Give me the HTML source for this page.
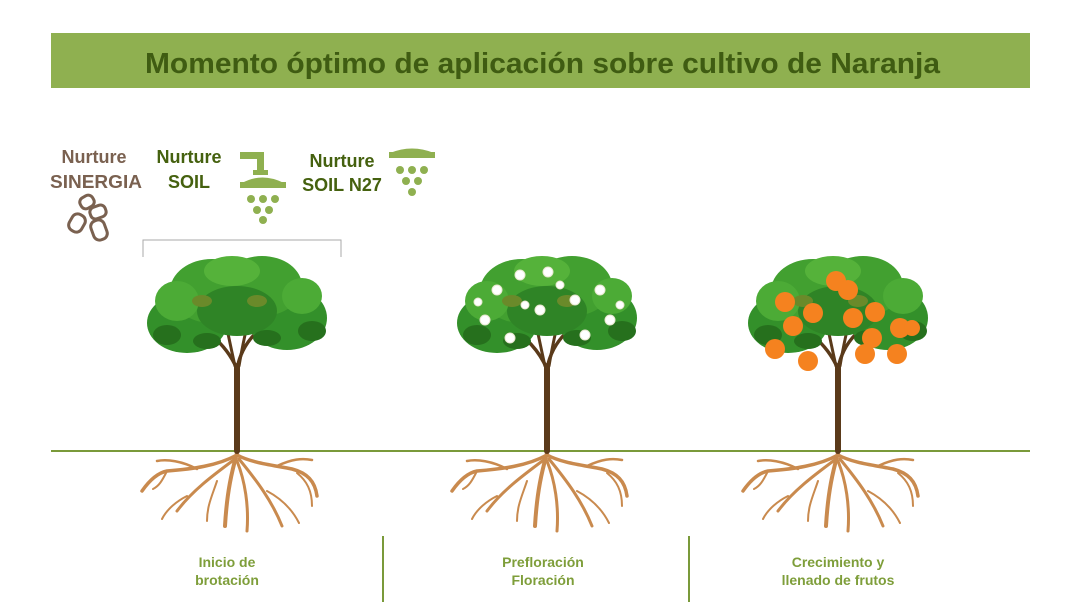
<!DOCTYPE html>
<html><head><meta charset="utf-8"><style>
html,body{margin:0;padding:0;background:#fff;}
body{width:1080px;height:616px;overflow:hidden;position:relative;font-family:"Liberation Sans",sans-serif;}
</style></head><body>
<svg width="1080" height="616" viewBox="0 0 1080 616" xmlns="http://www.w3.org/2000/svg" style="position:absolute;left:0;top:0">
<defs>
<g id="tree">
  <g stroke="#c98a4e" fill="none" stroke-linecap="round">
    <path d="M0 2 C-5 20 -10 40 -12 75" stroke-width="4"/>
    <path d="M0 4 C-20 15 -45 18 -70 20 C-80 22 -88 30 -95 40" stroke-width="3.5"/>
    <path d="M0 4 C15 12 35 14 55 18 C70 22 78 30 80 45" stroke-width="3.5"/>
    <path d="M-2 8 C-25 25 -45 40 -60 60" stroke-width="3"/>
    <path d="M2 8 C20 30 35 50 45 75" stroke-width="3"/>
    <path d="M0 10 C8 30 12 55 10 80" stroke-width="3"/>
    <path d="M-40 18 C-55 10 -70 8 -80 10" stroke-width="2.5"/>
    <path d="M40 15 C55 8 65 7 75 9" stroke-width="2.5"/>
    <path d="M-50 45 C-60 50 -70 58 -75 68" stroke-width="2"/>
    <path d="M30 40 C45 48 55 58 62 72" stroke-width="2"/>
    <path d="M-70 20 C-75 30 -78 35 -84 38" stroke-width="2"/>
    <path d="M-20 30 C-25 45 -30 55 -30 70" stroke-width="2"/>
    <path d="M60 22 C70 30 75 40 75 55" stroke-width="2"/>
  </g>
  <g stroke="#5a3a1a" fill="none" stroke-linecap="round">
    <path d="M0 0 L0 -85" stroke-width="6"/>
    <path d="M0 -82 C-10 -105 -30 -125 -65 -135" stroke-width="3.5"/>
    <path d="M0 -82 C5 -110 25 -130 60 -140" stroke-width="3.5"/>
    <path d="M-2 -85 C-10 -120 -15 -150 -20 -165" stroke-width="3"/>
    <path d="M2 -85 C8 -120 15 -150 25 -170" stroke-width="3"/>
  </g>
  <g>
    <ellipse cx="-50" cy="-128" rx="40" ry="30" fill="#33902a"/>
    <ellipse cx="50" cy="-133" rx="40" ry="32" fill="#33902a"/>
    <ellipse cx="-25" cy="-160" rx="42" ry="32" fill="#42a030"/>
    <ellipse cx="25" cy="-165" rx="40" ry="30" fill="#42a030"/>
    <ellipse cx="0" cy="-140" rx="40" ry="25" fill="#2f8426"/>
    <ellipse cx="-60" cy="-150" rx="22" ry="20" fill="#4cab36"/>
    <ellipse cx="65" cy="-155" rx="20" ry="18" fill="#4cab36"/>
    <ellipse cx="-5" cy="-180" rx="28" ry="15" fill="#55b23a"/>
    <ellipse cx="-70" cy="-116" rx="14" ry="10" fill="#26701d"/>
    <ellipse cx="75" cy="-120" rx="14" ry="10" fill="#26701d"/>
    <ellipse cx="-30" cy="-110" rx="14" ry="8" fill="#26701d"/>
    <ellipse cx="30" cy="-113" rx="14" ry="8" fill="#26701d"/>
    <ellipse cx="-35" cy="-150" rx="10" ry="6" fill="#6a8a2a"/>
    <ellipse cx="20" cy="-150" rx="10" ry="6" fill="#6a8a2a"/>
  </g>
</g>
</defs>

<rect x="51" y="33" width="979" height="55" fill="#8fb050"/>
<text x="145" y="73" textLength="795" lengthAdjust="spacingAndGlyphs" font-family="Liberation Sans, sans-serif" font-weight="bold" font-size="29" fill="#3f5c12">Momento óptimo de aplicación sobre cultivo de Naranja</text>

<g font-family="Liberation Sans, sans-serif" font-weight="bold" font-size="18" text-anchor="middle">
  <text x="94" y="163" fill="#7a6150">Nurture</text>
  <text x="96" y="188" fill="#7a6150" textLength="92" lengthAdjust="spacingAndGlyphs">SINERGIA</text>
  <text x="189" y="163" fill="#45610f">Nurture</text>
  <text x="189" y="188" fill="#45610f">SOIL</text>
  <text x="342" y="167" fill="#45610f">Nurture</text>
  <text x="342" y="191" fill="#45610f">SOIL N27</text>
</g>
<g fill="#fff" stroke="#7a6150" stroke-width="3">
  <rect x="80" y="196" width="14" height="12" rx="5" transform="rotate(-30 87 202)"/>
  <rect x="90" y="206" width="16" height="12" rx="5" transform="rotate(-20 98 212)"/>
  <rect x="70" y="214" width="14" height="18" rx="6" transform="rotate(30 77 223)"/>
  <rect x="92" y="220" width="14" height="20" rx="6" transform="rotate(-20 99 230)"/>
</g>
<g fill="#8fb050">
  <rect x="240" y="152" width="24" height="7"/>
  <rect x="257" y="152" width="7" height="20"/>
  <rect x="253" y="170" width="15" height="5"/>
  <path d="M242 183 Q262 172 284 183 Z"/>
  <rect x="240" y="182" width="46" height="6"/>
  <circle cx="251" cy="199" r="4"/><circle cx="263" cy="199" r="4"/><circle cx="275" cy="199" r="4"/>
  <circle cx="257" cy="210" r="4"/><circle cx="269" cy="210" r="4"/>
  <circle cx="263" cy="220" r="4"/>
  <path d="M390 153 Q412 144 434 153 Z"/>
  <rect x="389" y="152" width="46" height="6"/>
  <circle cx="400" cy="170" r="4"/><circle cx="412" cy="170" r="4"/><circle cx="424" cy="170" r="4"/>
  <circle cx="406" cy="181" r="4"/><circle cx="418" cy="181" r="4"/>
  <circle cx="412" cy="192" r="4"/>
</g>
<path d="M143 257 V240 H341 V257" fill="none" stroke="#aaa" stroke-width="1"/>

<line x1="51" y1="451" x2="1030" y2="451" stroke="#7a9a3a" stroke-width="2"/>

<use href="#tree" transform="translate(237,451)"/>
<use href="#tree" transform="translate(547,451)"/>
<use href="#tree" transform="translate(838,451)"/>

<g fill="#fff" stroke="#e8e8d0" stroke-width="1">
  <circle cx="497" cy="290" r="5"/><circle cx="520" cy="275" r="5"/><circle cx="548" cy="272" r="5"/>
  <circle cx="575" cy="300" r="5"/><circle cx="600" cy="290" r="5"/><circle cx="610" cy="320" r="5"/>
  <circle cx="485" cy="320" r="5"/><circle cx="510" cy="338" r="5"/><circle cx="540" cy="310" r="5"/>
  <circle cx="585" cy="335" r="5"/><circle cx="560" cy="285" r="4"/><circle cx="525" cy="305" r="4"/>
  <circle cx="620" cy="305" r="4"/><circle cx="478" cy="302" r="4"/>
</g>
<g fill="#f5821f">
  <circle cx="785" cy="302" r="10"/><circle cx="813" cy="313" r="10"/><circle cx="793" cy="326" r="10"/>
  <circle cx="836" cy="281" r="10"/><circle cx="848" cy="290" r="10"/><circle cx="853" cy="318" r="10"/>
  <circle cx="875" cy="312" r="10"/><circle cx="872" cy="338" r="10"/><circle cx="900" cy="328" r="10"/>
  <circle cx="775" cy="349" r="10"/><circle cx="808" cy="361" r="10"/><circle cx="865" cy="354" r="10"/>
  <circle cx="897" cy="354" r="10"/><circle cx="912" cy="328" r="8"/>
</g>

<line x1="383" y1="536" x2="383" y2="602" stroke="#7a9a3a" stroke-width="2"/>
<line x1="689" y1="536" x2="689" y2="602" stroke="#7a9a3a" stroke-width="2"/>

<g font-family="Liberation Sans, sans-serif" font-weight="bold" font-size="14" fill="#7e9e3a" text-anchor="middle">
  <text x="227" y="567">Inicio de</text>
  <text x="227" y="585">brotación</text>
  <text x="543" y="567">Prefloración</text>
  <text x="543" y="585">Floración</text>
  <text x="838" y="567">Crecimiento y</text>
  <text x="838" y="585">llenado de frutos</text>
</g>
</svg>
</body></html>
